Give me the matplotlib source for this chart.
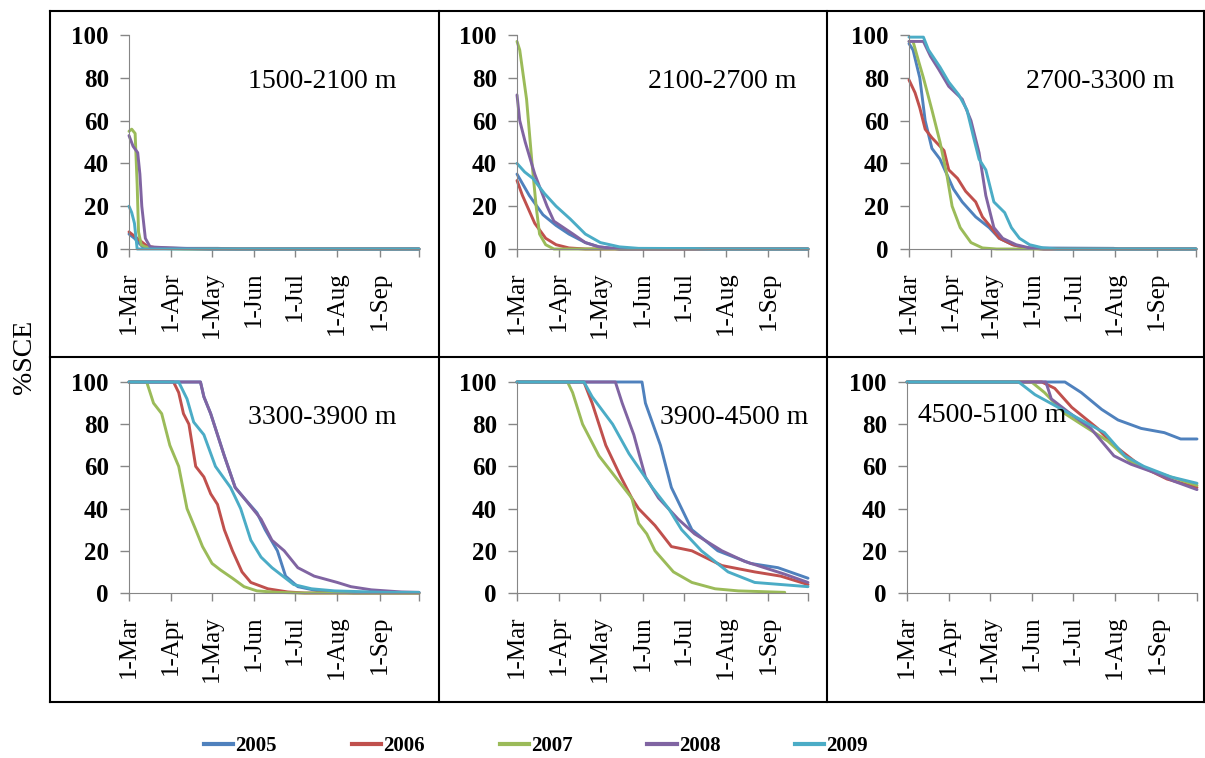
import matplotlib
matplotlib.use('Agg')
import matplotlib.pyplot as plt
from matplotlib.lines import Line2D

W, H = 1205, 758

years = ['2005', '2006', '2007', '2008', '2009']
colors = ['#4F81BD', '#C0504D', '#9BBB59', '#8064A2', '#4BACC6']
bands = ['1500-2100 m', '2100-2700 m', '2700-3300 m',
         '3300-3900 m', '3900-4500 m', '4500-5100 m']

# month ticks, days since 1 March
tick_days = [0, 31, 61, 92, 122, 153, 184, 213]
tick_labels = ['1-Mar', '1-Apr', '1-May', '1-Jun', '1-Jul', '1-Aug', '1-Sep', '']

# (day, %SCE)
b1500_2005 = [(0, 7), (4, 5), (7, 3), (10, 1), (20, 0.5), (40, 0.3), (65, 0.3), (80, 0), (213, 0)]
b1500_2006 = [(0, 8), (6, 5), (10, 3), (13, 1.5), (20, 0.5), (40, 0.2), (60, 0), (213, 0)]
b1500_2007 = [(0, 55), (2, 56), (4.5, 54), (6, 30), (7, 8), (9, 2), (12, 1), (20, 0.3), (40, 0), (213, 0)]
b1500_2008 = [(0, 53), (3, 48), (6.4, 45), (8, 35), (9.4, 20), (12, 5), (15.5, 1), (30, 0.5), (45, 0.2), (60, 0), (213, 0)]
b1500_2009 = [(0, 20), (2, 17), (4, 12), (5.5, 3), (6, 0), (213, 0)]

b2100_2005 = [(0, 35), (9, 25), (19, 16), (28.6, 11), (38, 7), (50, 3), (60, 1), (75, 0), (213, 0)]
b2100_2006 = [(0, 32), (4, 25), (13, 12), (21, 5), (28.6, 2), (38, 0.5), (50, 0), (213, 0)]
b2100_2007 = [(0, 97), (2, 93), (7, 70), (11, 40), (14, 20), (16.5, 7), (21, 2), (27, 0), (213, 0)]
b2100_2008 = [(0, 72), (2, 60), (6, 50), (13, 35), (22, 20), (27, 13), (41, 7), (50, 3), (60, 1), (75, 0), (213, 0)]
b2100_2009 = [(0, 40), (5.6, 36), (11.6, 33), (20, 26), (28.6, 20), (39, 14), (50, 7), (61, 3), (75, 1), (89, 0.3), (130, 0.2), (140, 0), (213, 0)]

b2700_2005 = [(0, 96), (3, 93), (8, 80), (12, 60), (17, 47), (23, 42), (28, 35), (33, 28), (39.5, 22), (49.5, 15),
              (59.5, 10), (67, 5), (77, 2), (87, 0.5), (152, 0.3), (155, 0), (213, 0)]
b2700_2006 = [(0, 79), (4.5, 73), (8, 66), (12, 56), (17, 52), (26, 46), (29.5, 37), (36, 33), (42, 27), (49.5, 22),
              (54.5, 15), (61, 10), (67, 5), (77, 2), (87, 0.5), (100, 0), (213, 0)]
b2700_2007 = [(0, 97), (3, 97), (7, 88), (10.7, 80), (17, 65), (23, 50), (28, 35), (32, 20), (38, 10), (46, 3),
              (54.5, 0.5), (65, 0), (213, 0)]
b2700_2008 = [(0, 97), (10.7, 97), (16, 90), (22, 84), (29.5, 76), (39.5, 70), (46, 60), (52, 45), (57, 25), (63, 10),
              (69.5, 5), (79.5, 2), (89.5, 0.5), (100, 0), (213, 0)]
b2700_2009 = [(0, 99), (10.7, 99), (14.5, 93), (23, 85), (29.5, 78), (37, 72), (43, 65), (48, 52), (52, 42), (57, 37),
              (63, 22), (71, 17), (76, 10), (82, 5), (89.5, 2), (99.5, 0.5), (110, 0), (213, 0)]

b3300_2005 = [(0, 100), (52.5, 100), (55, 93), (60, 85), (70, 65), (78, 50), (84.5, 45), (94, 38), (100, 30),
              (109, 20), (115, 8), (124, 3), (139, 1), (165, 0), (213, 0)]
b3300_2006 = [(0, 100), (32.7, 100), (36.5, 95), (40, 85), (44, 80), (49, 60), (55, 55), (60, 47), (65, 42),
              (70, 30), (76, 20), (83, 10), (89.5, 5), (102, 2), (116.5, 0.5), (129, 0), (213, 0)]
b3300_2007 = [(0, 100), (13, 100), (18, 90), (24, 85), (30, 70), (36.5, 60), (42.6, 40), (49, 30), (54, 22), (61, 14),
              (67, 11), (76, 7), (84.5, 3), (94, 1), (109, 0.3), (125, 0), (213, 0)]
b3300_2008 = [(0, 100), (52.5, 100), (55, 93), (60, 85), (70, 65), (78, 50), (84.5, 45), (97, 35), (105, 25),
              (114, 20), (124, 12), (136, 8), (153, 5), (163, 3), (178, 1.5), (200, 0.5), (213, 0.3)]
b3300_2009 = [(0, 100), (36.5, 100), (42.6, 92), (47.5, 81), (55, 75), (63.5, 60), (74.6, 50), (82, 40), (89.5, 25),
              (97, 17), (105, 12), (113, 8), (121, 4), (134, 2), (151, 1), (188, 0.3), (213, 0.3)]

b3900_2005 = [(0, 100), (91.5, 100), (94, 90), (105, 70), (113, 50), (128, 30), (147, 20), (171, 14), (191, 12),
              (213, 7)]
b3900_2006 = [(0, 100), (49, 100), (55, 90), (65, 70), (76, 55), (84, 45), (89, 40), (101, 32), (113, 22), (128, 20),
              (150, 13), (174, 10), (193, 8), (213, 4)]
b3900_2007 = [(0, 100), (37, 100), (40.7, 95), (48, 80), (60, 65), (72, 55), (84, 45), (89, 33), (95, 28), (101, 20),
              (114.5, 10), (128, 5), (145, 2), (162, 1), (196, 0.3)]
b3900_2008 = [(0, 100), (72, 100), (77, 90), (85.5, 75), (94, 55), (103.6, 45), (118, 35), (130, 28), (150, 20),
              (166.6, 15), (181, 12), (195.6, 9), (213, 5)]
b3900_2009 = [(0, 100), (49, 100), (55, 93), (70, 80), (82, 66), (99, 50), (111, 40), (120.5, 30), (135, 20),
              (154.5, 10), (174, 5), (213, 3)]

b4500_2005 = [(0, 100), (116, 100), (128, 95), (143, 87), (155, 82), (172, 78), (189, 76), (201, 73), (213, 73)]
b4500_2006 = [(0, 100), (99, 100), (108.5, 97), (121, 88), (140, 78), (152, 70), (172, 60), (191, 54), (213, 50)]
b4500_2007 = [(0, 100), (91.5, 100), (101, 95), (116, 85), (128, 80), (147.5, 72), (164.6, 62), (184, 57), (213, 51)]
b4500_2008 = [(0, 100), (102, 100), (106, 92), (118, 86), (135, 78), (152, 65), (164.6, 61), (182, 57), (196, 53),
              (213, 49)]
b4500_2009 = [(0, 100), (82, 100), (94, 94), (111, 88), (128, 82), (145, 76), (160, 65), (174, 60), (194, 55),
              (213, 52)]

panel_data = [
    [b1500_2005, b1500_2006, b1500_2007, b1500_2008, b1500_2009],
    [b2100_2005, b2100_2006, b2100_2007, b2100_2008, b2100_2009],
    [b2700_2005, b2700_2006, b2700_2007, b2700_2008, b2700_2009],
    [b3300_2005, b3300_2006, b3300_2007, b3300_2008, b3300_2009],
    [b3900_2005, b3900_2006, b3900_2007, b3900_2008, b3900_2009],
    [b4500_2005, b4500_2006, b4500_2007, b4500_2008, b4500_2009],
]

# axes boxes in pixels: left, right, top (y=100), bottom (y=0)
boxes = [(129, 419, 35, 249), (517, 808, 35, 249), (909, 1196, 35, 249),
         (129, 419, 382, 593), (517, 808, 382, 593), (907, 1197, 382, 593)]
# label positions in pixels (left edge, centre y)
label_pos = [(248, 81), (648, 82), (1026, 82), (248, 417), (660, 417), (918, 415)]

plt.rcParams['font.family'] = 'Liberation Serif'
fig = plt.figure(figsize=(W / 100, H / 100), dpi=100)

axis_grey = '#868686'
for i, (l, r, t, b) in enumerate(boxes):
    ax = fig.add_axes([l / W, 1 - b / H, (r - l) / W, (b - t) / H])
    for j, series in enumerate(panel_data[i]):
        xs = [p[0] for p in series]
        ys = [p[1] for p in series]
        ax.plot(xs, ys, color=colors[j], lw=2.1, clip_on=False, solid_capstyle='round')
    ax.set_xlim(0, 213)
    ax.set_ylim(0, 100)
    ax.set_yticks([0, 20, 40, 60, 80, 100])
    ax.set_xticks(tick_days)
    ax.set_xticklabels(tick_labels, rotation=90, fontsize=18)
    for lab in ax.get_yticklabels():
        lab.set_fontweight('bold')
        lab.set_fontsize(18)
    ax.spines['top'].set_visible(False)
    ax.spines['right'].set_visible(False)
    ax.spines['left'].set_color(axis_grey)
    ax.spines['bottom'].set_color(axis_grey)
    ax.tick_params(axis='y', length=6.5, width=1, color=axis_grey, pad=8)
    ax.tick_params(axis='x', length=6, width=1, color=axis_grey, pad=10)
    ax.patch.set_alpha(0)
    lx, ly = label_pos[i]
    fig.text(lx / W, 1 - ly / H, bands[i], fontsize=20, ha='left', va='center')

# cell borders
def hline(y, x0, x1):
    fig.add_artist(Line2D([x0 / W, x1 / W], [1 - y / H, 1 - y / H], color='black', lw=1.5))

def vline(x, y0, y1):
    fig.add_artist(Line2D([x / W, x / W], [1 - y0 / H, 1 - y1 / H], color='black', lw=1.5))

hline(11, 50, 1204)
hline(357, 50, 1204)
hline(702, 50, 1204)
vline(50, 11, 702)
vline(439, 11, 702)
vline(827, 11, 702)
vline(1204, 11, 702)

fig.text(25 / W, 1 - 357 / H, '%SCE', rotation=90, fontsize=20, ha='center', va='center')

handles = [Line2D([], [], color=c, lw=3) for c in colors]
fig.legend(handles, years, loc='center', bbox_to_anchor=(536 / W, 1 - 746 / H), ncol=5,
           frameon=False, handlelength=1.4, handletextpad=0.1, columnspacing=3.6,
           prop={'family': 'Liberation Serif', 'weight': 'bold', 'size': 15})

fig.savefig('out.png', dpi=100)
